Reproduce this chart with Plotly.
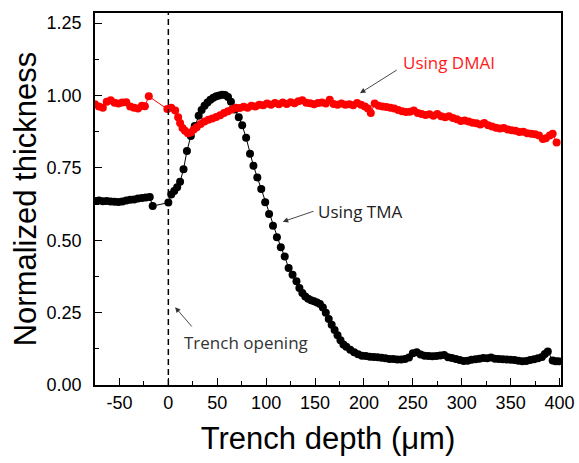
import plotly.graph_objects as go

# ---------------- data ----------------
tma_x = [-75, -71, -67, -63, -59, -55, -51, -47, -43, -39, -35, -31, -27, -23, -19,
         -16, 0, 3, 6, 9, 12, 15.5, 19, 23, 27, 31, 34, 37, 40, 43, 46, 49, 52, 55, 58,
         61, 64, 68, 72, 75.5, 79.5, 83.5, 87, 91, 95, 99, 103, 107, 111, 115, 119, 123,
         127, 131, 134, 137, 140, 143, 146, 149, 152, 155, 158, 161, 164, 167, 170, 173,
         176, 179, 182, 186, 190, 194, 198, 202, 206, 210, 214, 218, 222, 226, 230, 234,
         238, 242, 246, 250, 254, 258, 262, 266, 270, 274, 278, 282, 286, 290, 294, 298,
         302, 306, 310, 314, 318, 322, 326, 330, 334, 338, 342, 346, 350, 354, 358, 362,
         366, 370, 374, 378, 382, 385, 388, 393, 396, 399]
tma_y = [0.636, 0.637, 0.635, 0.636, 0.634, 0.633, 0.632, 0.634, 0.637, 0.640, 0.641, 0.644, 0.646, 0.648, 0.649,
         0.618, 0.630, 0.658, 0.670, 0.683, 0.702, 0.745, 0.808, 0.860, 0.895, 0.930, 0.950, 0.965, 0.976, 0.985, 0.992, 0.997, 1.000, 1.003, 1.002,
         0.995, 0.978, 0.952, 0.925, 0.897, 0.854, 0.799, 0.757, 0.717, 0.677, 0.631, 0.591, 0.550, 0.510, 0.476, 0.444, 0.404,
         0.381, 0.358, 0.335, 0.318, 0.306, 0.298, 0.293, 0.289, 0.285, 0.280, 0.268, 0.250, 0.228, 0.208, 0.190, 0.172,
         0.155, 0.140, 0.132, 0.122, 0.113, 0.106, 0.101, 0.100, 0.098, 0.097, 0.096, 0.094, 0.092, 0.090, 0.090, 0.088,
         0.088, 0.090, 0.095, 0.110, 0.113, 0.105, 0.101, 0.100, 0.099, 0.100, 0.102, 0.104, 0.096, 0.093, 0.090, 0.086,
         0.083, 0.084, 0.087, 0.089, 0.091, 0.093, 0.092, 0.095, 0.091, 0.090, 0.089, 0.088, 0.087, 0.086, 0.084, 0.082,
         0.083, 0.086, 0.089, 0.092, 0.097, 0.107, 0.116, 0.085, 0.082, 0.082]

dmai_x = [-75, -71, -67, -63, -59, -55, -51, -47, -43, -39, -35, -31, -27, -24, -20,
          -1, 3, 7, 10, 12, 14.5, 17, 20, 23, 26, 29, 33, 37, 41, 45, 49, 53, 57, 61, 65,
          69, 73, 77, 81, 85, 89, 93, 97, 101, 105, 109, 113, 117, 121, 125, 129, 133, 137,
          141, 145, 149, 153, 157, 161, 165, 169, 173, 177, 181, 185, 189, 193, 197, 201,
          204, 207, 211, 215, 219, 223, 227, 231, 235, 239, 243, 247, 251, 255, 259, 263,
          267, 271, 275, 279, 283, 287, 291, 295, 299, 303, 307, 311, 315, 319, 323, 327,
          331, 335, 339, 343, 347, 351, 355, 359, 363, 367, 371, 375, 379, 383, 386, 390,
          393, 397]
dmai_y = [0.970, 0.962, 0.958, 0.978, 0.984, 0.975, 0.972, 0.976, 0.977, 0.962, 0.958, 0.955, 0.965, 0.963, 0.997,
          0.953, 0.958, 0.948, 0.925, 0.905, 0.888, 0.878, 0.870, 0.872, 0.883, 0.890, 0.902, 0.910, 0.916, 0.921, 0.926, 0.932, 0.940, 0.946, 0.952,
          0.958, 0.957, 0.961, 0.958, 0.965, 0.962, 0.968, 0.966, 0.972, 0.968, 0.974, 0.970, 0.976, 0.971, 0.977, 0.973, 0.980, 0.984,
          0.975, 0.973, 0.970, 0.974, 0.976, 0.972, 0.985, 0.971, 0.968, 0.972, 0.968, 0.970, 0.966, 0.974, 0.968, 0.962,
          0.955, 0.940, 0.972, 0.965, 0.962, 0.960, 0.958, 0.955, 0.950, 0.946, 0.943, 0.944, 0.948, 0.940, 0.936, 0.933,
          0.935, 0.930, 0.936, 0.928, 0.925, 0.928, 0.922, 0.918, 0.912, 0.914, 0.910, 0.906, 0.904, 0.900, 0.905, 0.897,
          0.893, 0.889, 0.886, 0.888, 0.883, 0.880, 0.878, 0.874, 0.875, 0.870, 0.868, 0.866, 0.862, 0.850, 0.852, 0.862,
          0.868, 0.838]

x_tickvals = [-50, 0, 50, 100, 150, 200, 250, 300, 350, 400]
x_ticktext = ["-50", "0", "50", "100", "150", "200", "250", "300", "350", "400"]
y_tickvals = [0.00, 0.25, 0.50, 0.75, 1.00, 1.25]
y_ticktext = ["0.00", "0.25", "0.50", "0.75", "1.00", "1.25"]

x_range = [-75, 401.5]
y_range = [0, 1.285]

# ---------------- figure ----------------
fig = go.Figure()
fig.add_trace(go.Scatter(x=tma_x, y=tma_y, mode="lines+markers", name="Using TMA",
                         line=dict(color="black", width=1),
                         marker=dict(color="black", size=8)))
fig.add_trace(go.Scatter(x=dmai_x, y=dmai_y, mode="lines+markers", name="Using DMAI",
                         line=dict(color="#ff0000", width=1),
                         marker=dict(color="#ff0000", size=8)))

fig.add_shape(type="line", xref="x", yref="y", x0=0, x1=0, y0=y_range[0], y1=y_range[1],
              line=dict(color="black", width=1.5, dash="6px,4px"))

ann_font = "Open Sans, Noto Sans, sans-serif"
# text labels
fig.add_annotation(x=287, y=1.115, xref="x", yref="y", text="Using DMAI", showarrow=False,
                   font=dict(family=ann_font, size=17, color="#ff1a1a"))
fig.add_annotation(x=196, y=0.601, xref="x", yref="y", text="Using TMA", showarrow=False,
                   font=dict(family=ann_font, size=17, color="#222222"))
fig.add_annotation(x=79.5, y=0.148, xref="x", yref="y", text="Trench opening", showarrow=False,
                   font=dict(family=ann_font, size=17, color="#333333"))
# arrows
arrow_kw = dict(xref="x", yref="y", axref="x", ayref="y", text="", showarrow=True,
                arrowhead=2, arrowsize=1.2, arrowwidth=0.9, arrowcolor="#333333")
fig.add_annotation(x=196, y=1.008, ax=235, ay=1.091, **arrow_kw)
fig.add_annotation(x=117, y=0.564, ax=150, ay=0.602, **arrow_kw)
fig.add_annotation(x=6.9, y=0.269, ax=25.3, ay=0.197, **arrow_kw)

tick_font = dict(family="Liberation Sans, Arial, sans-serif", size=18, color="black")
title_font = dict(family="Liberation Sans, Arial, sans-serif", size=31, color="black")

fig.update_layout(
    width=579, height=463,
    margin=dict(l=95, r=18, t=13, b=78, autoexpand=False),
    paper_bgcolor="white", plot_bgcolor="white",
    showlegend=False,
    xaxis=dict(range=x_range, tickmode="array", tickvals=x_tickvals, ticktext=x_ticktext,
               ticks="inside", ticklen=7, tickwidth=1.2, tickcolor="black",
               minor=dict(ticks="inside", ticklen=4, tickwidth=1.2, tickcolor="black",
                          tick0=-75, dtick=25, showgrid=False),
               showline=True, linecolor="black", linewidth=1.5, mirror=True,
               showgrid=False, zeroline=False, tickfont=tick_font, ticklabelstandoff=1,
               automargin=False,
               title=dict(text="Trench depth (μm)", font=title_font)),
    yaxis=dict(range=y_range, tickmode="array", tickvals=y_tickvals, ticktext=y_ticktext,
               ticks="inside", ticklen=7, tickwidth=1.2, tickcolor="black",
               minor=dict(ticks="inside", ticklen=4, tickwidth=1.2, tickcolor="black",
                          tick0=0.125, dtick=0.25, showgrid=False),
               showline=True, linecolor="black", linewidth=1.5, mirror=True,
               showgrid=False, zeroline=False, tickfont=tick_font, ticklabelstandoff=8,
               automargin=True,
               title=dict(text="Normalized thickness", font=title_font, standoff=1)),
)

fig.write_html("out.html", config={"displayModeBar": False},
               post_script="document.body.style.margin='0';")
